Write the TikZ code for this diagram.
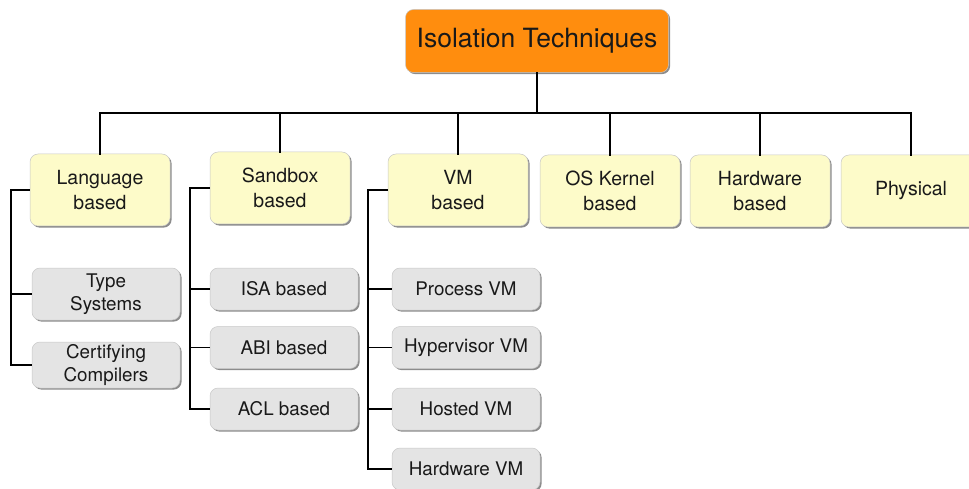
\documentclass[tikz,border=0pt]{standalone}
\usepackage{fontspec}
\setmainfont{TeX Gyre Heros}
\usetikzlibrary{shadows}
\definecolor{orangefill}{RGB}{255,141,14}
\definecolor{yellowfill}{RGB}{253,251,201}
\definecolor{grayfill}{RGB}{228,228,228}
\begin{document}
\begin{tikzpicture}[x=1pt,y=-1pt,
  box/.style={rounded corners=8pt, draw=black!22, line width=0.5pt, align=center, text=black!90, inner sep=0pt,
    drop shadow={shadow xshift=1.6pt,shadow yshift=-1.6pt,fill=black!45,opacity=1}},
  topbox/.style={box, fill=orangefill, minimum width=263pt, minimum height=63pt, font=\fontsize{26.5}{30}\selectfont},
  cat/.style={box, fill=yellowfill, minimum width=140pt, minimum height=72pt, font=\fontsize{19.5}{24.5}\selectfont},
  leaf/.style={box, fill=grayfill, minimum width=148pt, minimum height=42pt, font=\fontsize{18.8}{23.5}\selectfont},
  bus/.style={line width=1.6pt, line cap=rect},
  br/.style={line width=1.2pt}]
\useasboundingbox (0,0) rectangle (969,489);
\clip (0,0) rectangle (969,489);

% top
\node[topbox] (root) at (537,41) {Isolation Techniques};

% categories
\node[cat] (lang) at (100,190) {Language\\based};
\node[cat] (sand) at (280,188) {Sandbox\\based};
\node[cat] (vm)   at (458,190) {VM\\based};
\node[cat] (os)   at (610,191) {OS Kernel\\based};
\node[cat] (hw)   at (760,191) {Hardware\\based};
\node[cat] (phys) at (911,191) {Physical};

% leaves
\node[leaf, minimum height=52pt] (tsys) at (106,294) {Type\\Systems};
\node[leaf, minimum height=46pt] (cert) at (106,365) {Certifying\\Compilers};

\node[leaf] (isa) at (284,289) {ISA based};
\node[leaf] (abi) at (284,347.5) {ABI based};
\node[leaf] (acl) at (284,409) {ACL based};

\node[leaf] (pvm)  at (466,289) {Process VM};
\node[leaf] (hyp)  at (466,347.5) {Hypervisor VM};
\node[leaf] (host) at (466,409) {Hosted VM};
\node[leaf] (hwvm) at (466,469) {Hardware VM};

% bus
\coordinate (b) at (537,113);
\draw[bus] (root.south) -- (b);
\draw[bus] (lang.north |- b) -- (phys.north |- b);
\foreach \n in {lang,sand,vm,os,hw,phys}
  \draw[bus] (\n.north |- b) -- (\n.north);

% brackets
\coordinate (lx) at (11,0);
\coordinate (sx) at (190,0);
\coordinate (vx) at (368,0);
\draw[br] (lang.west) -- (lang.west -| lx) |- (cert.west);
\draw[br] (tsys.west) -- (tsys.west -| lx);

\draw[br] (sand.west) -- (sand.west -| sx) |- (acl.west);
\draw[br] (isa.west) -- (isa.west -| sx);
\draw[br] (abi.west) -- (abi.west -| sx);

\draw[br] (vm.west) -- (vm.west -| vx) |- (hwvm.west);
\draw[br] (pvm.west) -- (pvm.west -| vx);
\draw[br] (hyp.west) -- (hyp.west -| vx);
\draw[br] (host.west) -- (host.west -| vx);
\end{tikzpicture}
\end{document}
